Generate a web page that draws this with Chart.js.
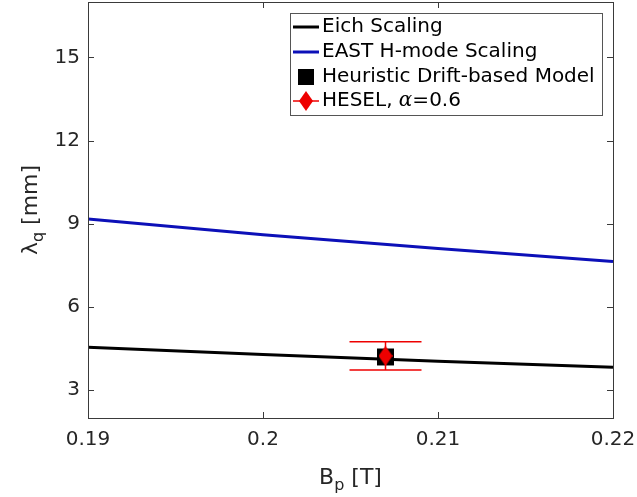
<!DOCTYPE html>
<html>
<head>
<meta charset="utf-8">
<script src="https://cdn.jsdelivr.net/npm/chart.js@4.4.1/dist/chart.umd.min.js"></script>
<style>
html, body { margin: 0; padding: 0; background: #fff; }
canvas { display: block; }
</style>
</head>
<body>
<canvas id="lambdaChart" width="637" height="497"></canvas>
<script>
// scaling curves, lambda_q [mm] vs B_p [T]
const bpGrid = [0.19, 0.20, 0.21, 0.22];
const eichLambda = [4.55, 4.29, 4.05, 3.83];
const eastLambda = [9.18, 8.61, 8.11, 7.64];

// single-point results
const driftBp = [0.207];
const driftLambda = [4.20];
const heselBp = [0.207];
const heselLambda = [4.24];
const heselErr = [0.51];

const xTicks = [0.19, 0.20, 0.21, 0.22];
const xTickLabels = ['0.19', '0.2', '0.21', '0.22'];
const yTicks = [3, 6, 9, 12, 15];

const FONT = '"DejaVu Sans", sans-serif';
const AXIS_COLOR = '#3a3a3a';
const TEXT_COLOR = '#262626';
const EAST_BLUE = '#0c10b8';
const HESEL_RED = '#ee0000';

function makeDiamond(w, h, color) {
    const c = document.createElement('canvas');
    c.width = w;
    c.height = h;
    const g = c.getContext('2d');
    g.fillStyle = color;
    g.beginPath();
    g.moveTo(w / 2, 0);
    g.lineTo(w, h / 2);
    g.lineTo(w / 2, h);
    g.lineTo(0, h / 2);
    g.closePath();
    g.fill();
    return c;
}

const diamondMarker = makeDiamond(14, 20, HESEL_RED);

const toXY = (xs, ys) => xs.map((x, i) => ({ x: x, y: ys[i] }));

// MATLAB style box with inward ticks on all four sides, labels outside
const boxPlugin = {
    id: 'boxAxes',
    afterDatasetsDraw(chart) {
        const { ctx, chartArea: a, scales } = chart;
        const len = 6;
        ctx.save();
        ctx.strokeStyle = AXIS_COLOR;
        ctx.lineWidth = 1;
        ctx.beginPath();
        xTicks.forEach(v => {
            const px = Math.round(scales.x.getPixelForValue(v)) + 0.5;
            ctx.moveTo(px, a.bottom); ctx.lineTo(px, a.bottom - len);
            ctx.moveTo(px, a.top); ctx.lineTo(px, a.top + len);
        });
        yTicks.forEach(v => {
            const py = Math.round(scales.y.getPixelForValue(v)) + 0.5;
            ctx.moveTo(a.left, py); ctx.lineTo(a.left + len, py);
            ctx.moveTo(a.right, py); ctx.lineTo(a.right - len, py);
        });
        ctx.stroke();
        ctx.strokeRect(Math.round(a.left) + 0.5, Math.round(a.top) + 0.5,
            Math.round(a.right - a.left), Math.round(a.bottom - a.top));

        ctx.fillStyle = TEXT_COLOR;
        ctx.font = '20px ' + FONT;
        ctx.textBaseline = 'middle';
        ctx.textAlign = 'center';
        xTicks.forEach((v, i) => {
            ctx.fillText(xTickLabels[i], scales.x.getPixelForValue(v), a.bottom + 22);
        });
        ctx.textAlign = 'right';
        yTicks.forEach(v => {
            ctx.fillText(String(v), a.left - 8, scales.y.getPixelForValue(v));
        });
        ctx.restore();
    }
};

// vertical error bar with wide caps for the HESEL point
const errorBarPlugin = {
    id: 'errorBars',
    beforeDatasetDraw(chart, args) {
        if (args.index !== 0) return;
        const { ctx, scales } = chart;
        const cap = 36;
        ctx.save();
        ctx.strokeStyle = HESEL_RED;
        ctx.lineWidth = 1.5;
        heselBp.forEach((bp, i) => {
            const px = scales.x.getPixelForValue(bp);
            const top = scales.y.getPixelForValue(heselLambda[i] + heselErr[i]);
            const bot = scales.y.getPixelForValue(heselLambda[i] - heselErr[i]);
            ctx.beginPath();
            ctx.moveTo(px, top); ctx.lineTo(px, bot);
            ctx.moveTo(px - cap, top); ctx.lineTo(px + cap, top);
            ctx.moveTo(px - cap, bot); ctx.lineTo(px + cap, bot);
            ctx.stroke();
        });
        ctx.restore();
    }
};

// axis titles with subscripts
const titlePlugin = {
    id: 'axisTitles',
    afterDraw(chart) {
        const { ctx, chartArea: a } = chart;
        const big = '22px ' + FONT;
        const small = '16px ' + FONT;
        ctx.save();
        ctx.fillStyle = TEXT_COLOR;
        ctx.textBaseline = 'alphabetic';

        // x title: B_p [T]
        ctx.font = big;
        const wB = ctx.measureText('B').width;
        const wRest = ctx.measureText(' [T]').width;
        ctx.font = small;
        const wp = ctx.measureText('p').width;
        let x = (a.left + a.right) / 2 - (wB + wp + wRest) / 2;
        const base = 484;
        ctx.font = big;
        ctx.fillText('B', x, base);
        ctx.font = small;
        ctx.fillText('p', x + wB, base + 6);
        ctx.font = big;
        ctx.fillText(' [T]', x + wB + wp, base);

        // y title: lambda_q [mm]
        ctx.translate(37, (a.top + a.bottom) / 2);
        ctx.rotate(-Math.PI / 2);
        ctx.font = big;
        const wL = ctx.measureText('\u03bb').width;
        const wMm = ctx.measureText(' [mm]').width;
        ctx.font = small;
        const wq = ctx.measureText('q').width;
        x = -(wL + wq + wMm) / 2;
        ctx.font = big;
        ctx.fillText('\u03bb', x, 0);
        ctx.font = small;
        ctx.fillText('q', x + wL, 6);
        ctx.font = big;
        ctx.fillText(' [mm]', x + wL + wq, 0);
        ctx.restore();
    }
};

// boxed legend in the upper right corner
const legendPlugin = {
    id: 'boxLegend',
    afterDraw(chart) {
        const { ctx } = chart;
        const bx = 290, by = 13, bw = 312, bh = 102;
        const rowY = [27, 52, 77, 101];
        const lx0 = 293, lx1 = 319, tx = 322;
        const legendFont = '20px ' + FONT;
        ctx.save();
        ctx.fillStyle = '#fff';
        ctx.fillRect(bx, by, bw, bh);
        ctx.strokeStyle = '#555';
        ctx.lineWidth = 1;
        ctx.strokeRect(bx + 0.5, by + 0.5, bw, bh);

        ctx.lineWidth = 3;
        ctx.strokeStyle = '#000';
        ctx.beginPath(); ctx.moveTo(lx0, rowY[0]); ctx.lineTo(lx1, rowY[0]); ctx.stroke();
        ctx.strokeStyle = EAST_BLUE;
        ctx.beginPath(); ctx.moveTo(lx0, rowY[1]); ctx.lineTo(lx1, rowY[1]); ctx.stroke();

        ctx.fillStyle = '#000';
        ctx.fillRect(298, rowY[2] - 8, 16, 16);

        ctx.strokeStyle = HESEL_RED;
        ctx.lineWidth = 1.5;
        ctx.beginPath(); ctx.moveTo(lx0, rowY[3]); ctx.lineTo(lx1, rowY[3]); ctx.stroke();
        ctx.drawImage(diamondMarker, 306 - 7, rowY[3] - 10);

        ctx.fillStyle = '#000';
        ctx.textBaseline = 'middle';
        ctx.font = legendFont;
        ctx.fillText('Eich Scaling', tx, rowY[0]);
        ctx.fillText('EAST H-mode Scaling', tx, rowY[1]);
        ctx.fillText('Heuristic Drift-based Model', tx, rowY[2]);
        const head = 'HESEL, ';
        ctx.fillText(head, tx, rowY[3]);
        let x = tx + ctx.measureText(head).width;
        ctx.font = 'italic 20px "DejaVu Serif", serif';
        ctx.fillText('\u03b1', x, rowY[3]);
        x += ctx.measureText('\u03b1').width;
        ctx.font = legendFont;
        ctx.fillText('=0.6', x, rowY[3]);
        ctx.restore();
    }
};

new Chart(document.getElementById('lambdaChart'), {
    type: 'scatter',
    data: {
        datasets: [
            {
                label: 'HESEL',
                data: toXY(heselBp, heselLambda),
                pointStyle: diamondMarker,
                pointRadius: 10
            },
            {
                label: 'Heuristic Drift-based Model',
                data: toXY(driftBp, driftLambda),
                pointStyle: 'rect',
                pointRadius: 12,
                backgroundColor: '#000',
                borderColor: '#000',
                borderWidth: 0
            },
            {
                label: 'Eich Scaling',
                data: toXY(bpGrid, eichLambda),
                showLine: true,
                borderColor: '#000',
                borderWidth: 3,
                pointRadius: 0
            },
            {
                label: 'EAST H-mode Scaling',
                data: toXY(bpGrid, eastLambda),
                showLine: true,
                borderColor: EAST_BLUE,
                borderWidth: 3,
                pointRadius: 0
            }
        ]
    },
    options: {
        responsive: false,
        animation: false,
        devicePixelRatio: 1,
        layout: { autoPadding: false, padding: { left: 0, top: 2, right: 24, bottom: 0 } },
        plugins: {
            legend: { display: false },
            tooltip: { enabled: false }
        },
        scales: {
            x: {
                type: 'linear',
                min: 0.19,
                max: 0.22,
                afterBuildTicks: scale => { scale.ticks = xTicks.map(v => ({ value: v })); },
                afterFit: scale => { scale.height = 79; },
                grid: { display: false },
                border: { display: false },
                ticks: { display: false }
            },
            y: {
                type: 'linear',
                min: 2,
                max: 17,
                afterBuildTicks: scale => { scale.ticks = yTicks.map(v => ({ value: v })); },
                afterFit: scale => { scale.width = 88; },
                grid: { display: false },
                border: { display: false },
                ticks: { display: false }
            }
        }
    },
    plugins: [boxPlugin, errorBarPlugin, titlePlugin, legendPlugin]
});
</script>
</body>
</html>
